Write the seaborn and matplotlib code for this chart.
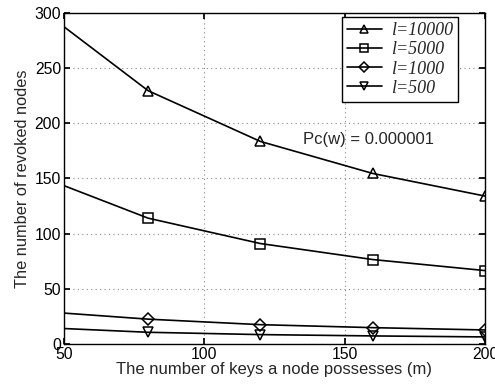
import matplotlib
matplotlib.use("Agg")
import matplotlib.pyplot as plt
import seaborn as sns
import pandas as pd

m = [50, 80, 120, 160, 200]
l10000 = [287.5, 229.5, 183.5, 154.5, 134.0]
l5000 = [143.5, 114.0, 91.0, 76.5, 66.5]
l1000 = [28.0, 22.5, 17.5, 14.8, 12.7]
l500 = [14.0, 10.6, 8.5, 7.3, 6.4]
labels = ["l=10000", "l=5000", "l=1000", "l=500"]
markers = ["^", "s", "D", "v"]
xticks = [50, 100, 150, 200]
yticks = [0, 50, 100, 150, 200, 250, 300]

sns.set_theme(style="white")
plt.rcParams['font.family'] = ['Liberation Sans', 'DejaVu Sans']

fig = plt.figure(figsize=(4.95, 3.9), dpi=100)
ax = fig.add_axes([0.129, 0.118, 0.851, 0.849])

for vals, lab, mk in zip([l10000, l5000, l1000, l500], labels, markers):
    df = pd.DataFrame({"m": m, "v": vals})
    ms = 6 if mk == "D" else 7
    sns.lineplot(data=df, x="m", y="v", ax=ax, color="black", lw=1.2,
                 marker=mk, markersize=ms, markerfacecolor="none",
                 markeredgecolor="black", markeredgewidth=1.1,
                 markevery=[1, 2, 3, 4], label=lab)

ax.set_xlim(50, 200)
ax.set_ylim(0, 300)
ax.set_xticks(xticks)
ax.set_yticks(yticks)
ax.tick_params(direction="in", length=4, labelsize=11.3, colors="black",
               top=True, right=True, bottom=True, left=True, pad=2)
ax.grid(True, linestyle=(0, (1, 3)), color="#888888", lw=0.8)
for s in ax.spines.values():
    s.set_color("black")
    s.set_linewidth(1.0)
ax.set_xlabel("The number of keys a node possesses (m)", fontsize=12, labelpad=0)
ax.set_ylabel("The number of revoked nodes", fontsize=11.8, labelpad=3)

ax.text(135, 185, "Pc(w) = 0.000001", fontsize=12, va="center", ha="left")

leg = ax.legend(loc="upper right", bbox_to_anchor=(0.936, 0.988), frameon=True,
                fancybox=False, edgecolor="black", framealpha=1, borderaxespad=0,
                handlelength=1.9, handletextpad=0.5, labelspacing=0.12, borderpad=0.3,
                markerscale=0.8,
                prop={"family": "Liberation Serif", "style": "italic", "size": 13})
leg.get_frame().set_linewidth(1.0)

fig.savefig("out.png", dpi=100)
